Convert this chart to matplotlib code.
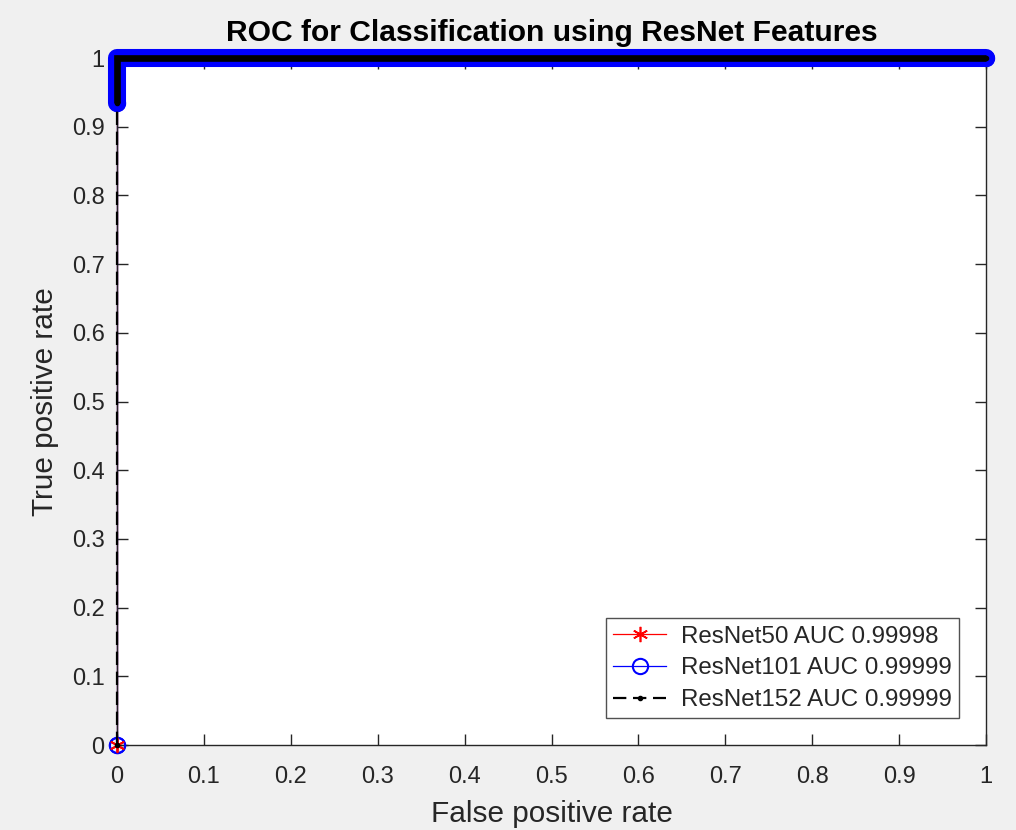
"""ROC comparison of ResNet feature classifiers, MATLAB-style figure."""

import matplotlib

matplotlib.use("Agg")
import matplotlib.pyplot as plt

plt.rcParams["font.family"] = ["Liberation Sans", "DejaVu Sans"]

# ROC corner points (the dense part of each curve runs from index 1 onwards)
fpr = [0.0, 0.0, 0.0, 1.0]
tpr = [0.0, 0.935, 1.0, 1.0]

labels = [
    "ResNet50 AUC 0.99998",
    "ResNet101 AUC 0.99999",
    "ResNet152 AUC 0.99999",
]
ticks = [0, 0.1, 0.2, 0.3, 0.4, 0.5, 0.6, 0.7, 0.8, 0.9, 1]
tick_labels = ["0", "0.1", "0.2", "0.3", "0.4", "0.5", "0.6", "0.7", "0.8", "0.9", "1"]

BG = "#f0f0f0"
AX = "#262626"

fig = plt.figure(figsize=(10.16, 8.3), dpi=100, facecolor=BG)
ax = fig.add_axes([0.1152, 0.1024, 0.8553, 0.8277])

# ResNet50: red line, asterisks (line hidden under the axis, marker at origin)
ax.plot(fpr, tpr, color="red", lw=0.9, marker=(6, 2, 0), ms=11, mew=1.2,
        label=labels[0], zorder=1.5, clip_on=False)

# ResNet101: markers packed so tightly they form a thick band
ax.plot(fpr[1:], tpr[1:], color="blue", lw=13, solid_capstyle="round",
        solid_joinstyle="round", zorder=4, clip_on=False)
ax.plot(fpr, tpr, color="blue", lw=0.9, marker="o", ms=11, mew=1.5,
        mfc="none", label=labels[1], zorder=1.6, clip_on=False)

# origin markers drawn on top of the axis line
ax.plot(fpr[:1], tpr[:1], ls="none", color="blue", marker="o", ms=11,
        mew=1.5, mfc="none", zorder=4, clip_on=False)
ax.plot(fpr[:1], tpr[:1], ls="none", color="red", marker=(6, 2, 0), ms=11,
        mew=1.2, zorder=4.5, clip_on=False)

# ResNet152: dashed black with dots, also dense along the top
ax.plot(fpr[1:], tpr[1:], color="black", lw=4.8, solid_capstyle="butt",
        solid_joinstyle="miter", zorder=5, clip_on=False)
ax.plot(fpr, tpr, color="black", lw=1.6, ls=(0, (6, 3)), marker=".", ms=6,
        label=labels[2], zorder=5, clip_on=False)

ax.set_xlim(0, 1)
ax.set_ylim(0, 1)
ax.set_xticks(ticks)
ax.set_xticklabels(tick_labels)
ax.set_yticks(ticks)
ax.set_yticklabels(tick_labels)
ax.tick_params(direction="in", length=8, width=1, colors=AX, labelsize=17,
               top=True, right=True)
ax.tick_params(axis="x", pad=15)
ax.tick_params(axis="y", pad=9)
for spine in ax.spines.values():
    spine.set_color(AX)
    spine.set_linewidth(1)
    spine.set_zorder(2)

ax.set_xlabel("False positive rate", fontsize=21.4, color=AX, labelpad=9)
ax.set_ylabel("True positive rate", fontsize=21.4, color=AX, labelpad=9)
ax.set_title("ROC for Classification using ResNet Features", fontsize=21.6,
             fontweight="bold", color="black", pad=12)

leg = ax.legend(loc="lower right", bbox_to_anchor=(0.969, 0.039), fontsize=17.4,
                frameon=True, fancybox=False, handlelength=2.2,
                borderpad=0.3, labelspacing=0.4, handletextpad=0.6,
                borderaxespad=0)
leg.get_frame().set_edgecolor(AX)
leg.get_frame().set_linewidth(1)
leg.set_zorder(6)
for text in leg.get_texts():
    text.set_color(AX)

fig.savefig("out.png", dpi=100, facecolor=BG)
